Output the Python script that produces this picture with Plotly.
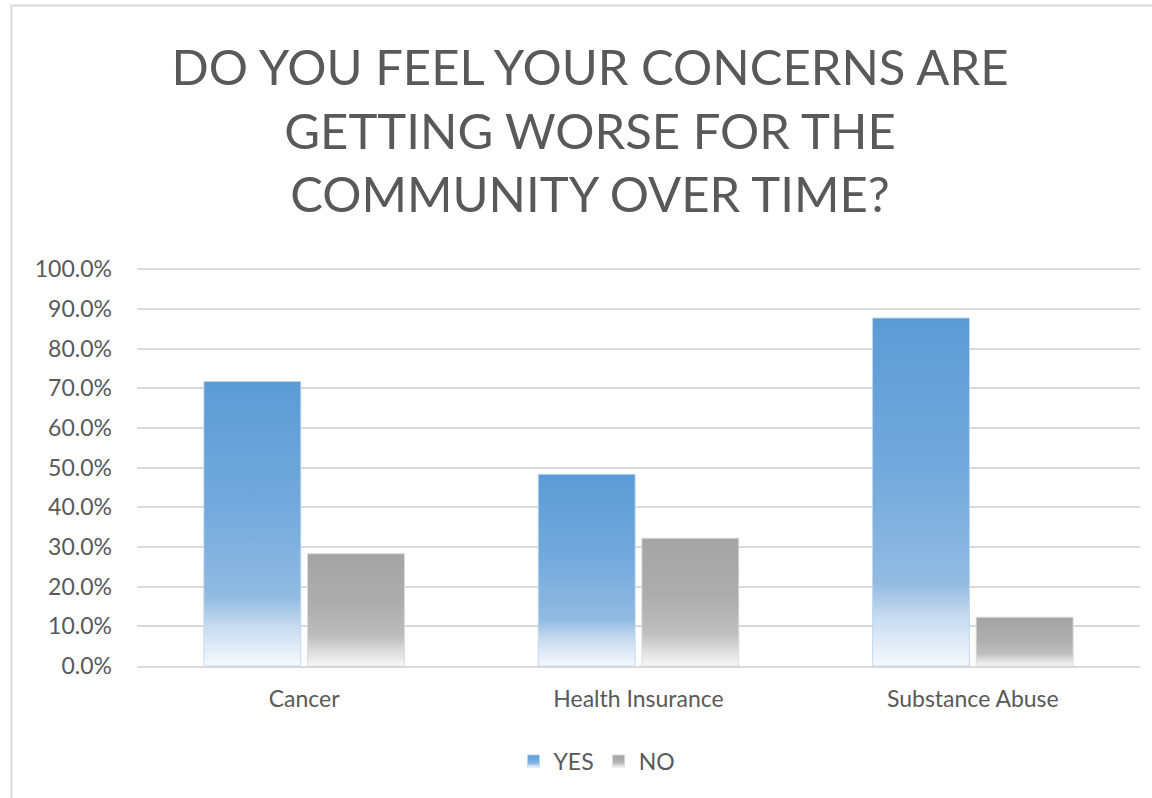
import plotly.graph_objects as go

# Survey responses: share of respondents per concern
categories = ["Cancer", "Health Insurance", "Substance Abuse"]
yes_share = [0.717, 0.483, 0.877]
no_share = [0.283, 0.322, 0.123]
series_names = ["YES", "NO"]

y_ticks = [i / 10 for i in range(11)]

TEXT = "#595959"
GRID = "#D9D9D9"
FONT = "Lato, 'Open Sans', sans-serif"

W, H = 1152, 798
ML, MR, MT, MB = 137, 12, 268, 132
PW = W - ML - MR
PH = H - MT - MB

fig = go.Figure()
fig.add_trace(go.Bar(
    x=categories, y=yes_share, name=series_names[0],
    marker=dict(color="#5B9BD5", line=dict(color="rgba(189,215,238,0.9)", width=1)),
))
fig.add_trace(go.Bar(
    x=categories, y=no_share, name=series_names[1],
    marker=dict(color="#A5A5A5", line=dict(color="rgba(217,217,217,0.9)", width=1)),
))

# outer chart frame (runs off the right and bottom edges)
fig.add_shape(
    type="rect", xref="paper", yref="paper",
    x0=(11.5 - ML) / PW, x1=(W + 40 - ML) / PW,
    y0=-(MB + 40) / PH, y1=1 + (MT - 5.5) / PH,
    line=dict(color="#D9D9D9", width=2), fillcolor="rgba(0,0,0,0)", layer="below",
)

fig.update_layout(
    width=W, height=H,
    margin=dict(l=ML, r=MR, t=MT, b=MB),
    paper_bgcolor="white", plot_bgcolor="white",
    barmode="group", bargap=0.38, bargroupgap=0.065,
    font=dict(family=FONT, color=TEXT),
    title=dict(
        text="DO YOU FEEL YOUR CONCERNS ARE<br>GETTING WORSE FOR THE<br>COMMUNITY OVER TIME?",
        font=dict(family=FONT, size=49, color=TEXT),
        x=590 / W, xanchor="center", xref="container",
        y=1 - 85 / H, yanchor="middle", yref="container",
    ),
    legend=dict(
        orientation="h", xref="container", yref="container",
        x=597 / W, xanchor="center", y=1 - 761 / H, yanchor="middle",
        font=dict(size=23, color=TEXT), itemwidth=30,
    ),
    showlegend=True,
)

fig.update_xaxes(
    showgrid=False, showline=True, linecolor=GRID, linewidth=1.5,
    ticks="", tickfont=dict(size=23, color=TEXT), ticklabelstandoff=12,
)
fig.update_yaxes(
    range=[0, 1.003], tickvals=y_ticks, tickformat=".1%",
    showgrid=True, gridcolor=GRID, gridwidth=1.5, zeroline=False,
    ticks="", tickfont=dict(size=23, color=TEXT), ticklabelstandoff=24,
)

# Vertical light gradient on each bar, like the office "light gradient" fill
post = """
(function(){
  var gd = document.getElementById('{plot_id}');
  var grads = {
    gradYes: [[0,'#5B9BD5'],[0.45,'#74AADC'],[0.76,'#92BBE2'],[0.86,'#C8DBF0'],[1,'#F5F9FD']],
    gradNo:  [[0,'#A5A5A5'],[0.45,'#ADADAD'],[0.74,'#BEBEBE'],[0.88,'#DEDEDE'],[1,'#F7F7F7']]
  };
  var ns = 'http://www.w3.org/2000/svg';
  function paint(){
    var svg = gd.querySelector('.main-svg');
    if(!svg) return;
    var defs = svg.querySelector('defs');
    if(!defs){ defs = document.createElementNS(ns,'defs'); svg.insertBefore(defs, svg.firstChild); }
    Object.keys(grads).forEach(function(id){
      if(document.getElementById(id)) return;
      var lg = document.createElementNS(ns,'linearGradient');
      lg.setAttribute('id', id);
      lg.setAttribute('x1','0'); lg.setAttribute('y1','0');
      lg.setAttribute('x2','0'); lg.setAttribute('y2','1');
      grads[id].forEach(function(s){
        var st = document.createElementNS(ns,'stop');
        st.setAttribute('offset', s[0]);
        st.setAttribute('stop-color', s[1]);
        lg.appendChild(st);
      });
      defs.appendChild(lg);
    });
    var ids = ['gradYes','gradNo'];
    gd.querySelectorAll('.barlayer .trace').forEach(function(tr, i){
      tr.querySelectorAll('path').forEach(function(p){ p.style.fill = 'url(#' + ids[i] + ')'; });
    });
    gd.querySelectorAll('.legend .traces').forEach(function(tr, i){
      tr.querySelectorAll('.legendpoints path').forEach(function(p){ p.style.fill = 'url(#' + ids[i] + ')'; });
    });
  }
  paint();
  gd.on('plotly_afterplot', paint);
})();
"""

fig.write_html("out.html", post_script=post)
